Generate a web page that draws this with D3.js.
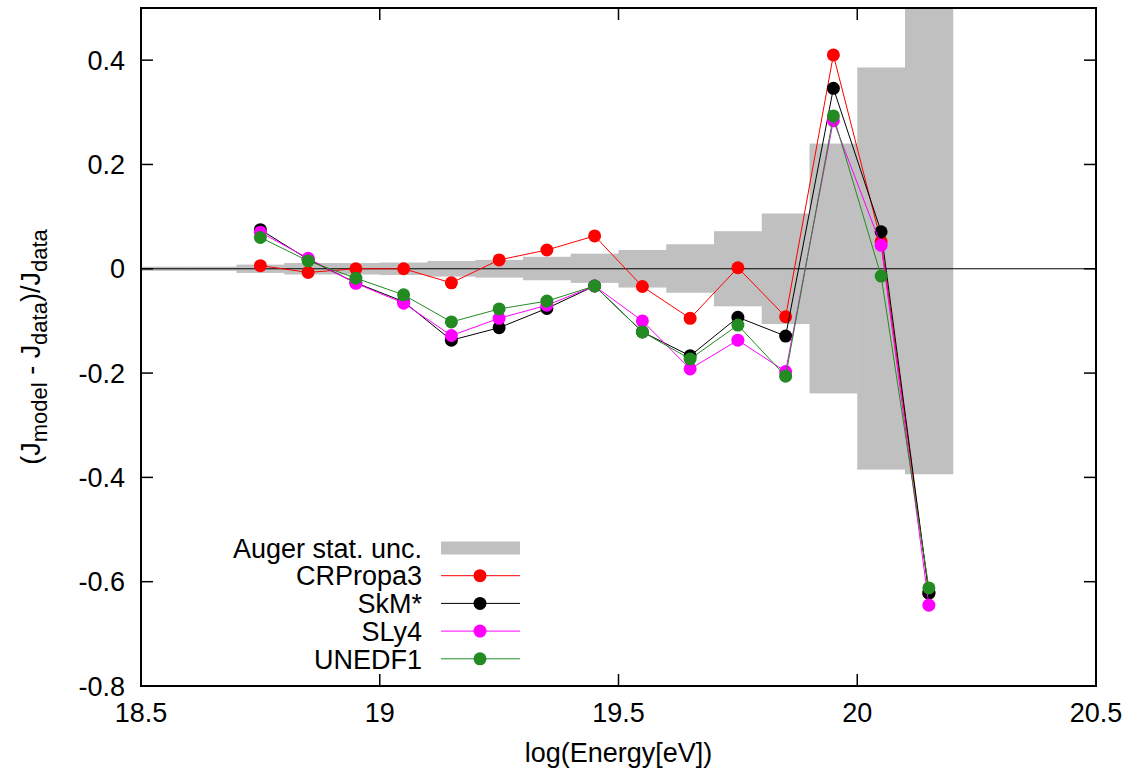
<!DOCTYPE html>
<html>
<head>
<meta charset="utf-8">
<script src="https://cdn.jsdelivr.net/npm/d3@7"></script>
<style>
  body { margin: 0; background: #fff; }
  svg text { font-family: "Liberation Sans", Arial, sans-serif; fill: #000; }
</style>
</head>
<body>
<div class="chart"></div>
<script>
var W = 1137, H = 778;
var margin = {left: 141, right: 41, top: 8, bottom: 92};
var fontSize = "27px";

// log10(E/eV) bin centres
var energy = [18.75, 18.85, 18.95, 19.05, 19.15, 19.25, 19.35, 19.45, 19.55, 19.65, 19.75, 19.85, 19.95, 20.05, 20.15];
var crpropa3 = [0.006, -0.007, 0.0, 0.0, -0.027, 0.017, 0.036, 0.063, -0.034, -0.095, 0.002, -0.092, 0.410, 0.052, -0.622];
var skm = [0.075, 0.018, -0.027, -0.063, -0.137, -0.113, -0.076, -0.033, -0.121, -0.167, -0.093, -0.129, 0.346, 0.071, -0.622];
var sly4 = [0.070, 0.020, -0.028, -0.066, -0.128, -0.095, -0.070, -0.033, -0.100, -0.192, -0.137, -0.197, 0.284, 0.045, -0.645];
var unedf1 = [0.060, 0.015, -0.018, -0.050, -0.102, -0.077, -0.062, -0.033, -0.121, -0.173, -0.108, -0.206, 0.293, -0.014, -0.612];

// Auger statistical uncertainty, bins of width 0.1 starting at these edges
var uncEdges = [18.5, 18.6, 18.7, 18.8, 18.9, 19.0, 19.1, 19.2, 19.3, 19.4, 19.5, 19.6, 19.7, 19.8, 19.9, 20.0, 20.1];
var uncUpper = [0.004, 0.004, 0.008, 0.011, 0.011, 0.012, 0.015, 0.017, 0.023, 0.029, 0.036, 0.047, 0.072, 0.106, 0.240, 0.386, 0.650];
var uncLower = [0.004, 0.004, 0.008, 0.011, 0.011, 0.012, 0.015, 0.017, 0.022, 0.027, 0.036, 0.046, 0.072, 0.106, 0.239, 0.385, 0.394];

var xTicks = [18.5, 19, 19.5, 20, 20.5];
var xTickLabels = ["18.5", "19", "19.5", "20", "20.5"];
var yTicks = [-0.8, -0.6, -0.4, -0.2, 0, 0.2, 0.4];
var yTickLabels = ["-0.8", "-0.6", "-0.4", "-0.2", "0", "0.2", "0.4"];

var seriesNames = ["CRPropa3", "SkM*", "SLy4", "UNEDF1"];
var seriesValues = [crpropa3, skm, sly4, unedf1];
var seriesColors = ["#ff0000", "#000000", "#ff00ff", "#228b22"];

var svg = d3.select(".chart").append("svg")
    .attr("width", W).attr("height", H);

var x = d3.scaleLinear().domain([18.5, 20.5]).range([margin.left, W - margin.right]);
var y = d3.scaleLinear().domain([-0.8, 0.5]).range([H - margin.bottom, margin.top]);

svg.append("defs").append("clipPath").attr("id", "plotclip")
  .append("rect")
    .attr("x", x(18.5)).attr("y", y(0.5))
    .attr("width", x(20.5) - x(18.5)).attr("height", y(-0.8) - y(0.5));

var plot = svg.append("g").attr("clip-path", "url(#plotclip)");

// uncertainty band
plot.selectAll("rect.unc")
    .data(uncEdges)
    .enter().append("rect")
    .attr("class", "unc")
    .attr("x", d => x(d))
    .attr("width", d => x(d + 0.1) - x(d) + 0.5)
    .attr("y", (d, i) => y(uncUpper[i]))
    .attr("height", (d, i) => y(-uncLower[i]) - y(uncUpper[i]))
    .attr("fill", "#c0c0c0");

// zero line
plot.append("line")
    .attr("x1", x(18.5)).attr("x2", x(20.5))
    .attr("y1", y(0)).attr("y2", y(0))
    .attr("stroke", "#000").attr("stroke-width", 1);

var line = d3.line().x((d, i) => x(energy[i])).y(d => y(d));

seriesValues.forEach(function(vals, k) {
    var g = plot.append("g");
    g.append("path")
        .attr("d", line(vals))
        .attr("fill", "none")
        .attr("stroke", seriesColors[k])
        .attr("stroke-width", 1);
    g.selectAll("circle")
        .data(vals)
        .enter().append("circle")
        .attr("cx", (d, i) => x(energy[i]))
        .attr("cy", d => y(d))
        .attr("r", 6.5)
        .attr("fill", seriesColors[k]);
});

// axes: ticks inward on all four sides
var tickLen = 12;
var axes = svg.append("g");
xTicks.forEach(function(t, i) {
    axes.append("line").attr("x1", x(t)).attr("x2", x(t))
        .attr("y1", y(-0.8)).attr("y2", y(-0.8) - tickLen)
        .attr("stroke", "#000").attr("stroke-width", 1.5);
    axes.append("line").attr("x1", x(t)).attr("x2", x(t))
        .attr("y1", y(0.5)).attr("y2", y(0.5) + tickLen)
        .attr("stroke", "#000").attr("stroke-width", 1.5);
    axes.append("text")
        .attr("x", x(t)).attr("y", y(-0.8) + 36)
        .attr("text-anchor", "middle")
        .style("font-size", fontSize)
        .text(xTickLabels[i]);
});
yTicks.forEach(function(t, i) {
    axes.append("line").attr("x1", x(18.5)).attr("x2", x(18.5) + tickLen)
        .attr("y1", y(t)).attr("y2", y(t))
        .attr("stroke", "#000").attr("stroke-width", 1.5);
    axes.append("line").attr("x1", x(20.5)).attr("x2", x(20.5) - tickLen)
        .attr("y1", y(t)).attr("y2", y(t))
        .attr("stroke", "#000").attr("stroke-width", 1.5);
    axes.append("text")
        .attr("x", x(18.5) - 16).attr("y", y(t))
        .attr("dy", "0.36em")
        .attr("text-anchor", "end")
        .style("font-size", fontSize)
        .text(yTickLabels[i]);
});

// frame
svg.append("rect")
    .attr("x", x(18.5)).attr("y", y(0.5))
    .attr("width", x(20.5) - x(18.5)).attr("height", y(-0.8) - y(0.5))
    .attr("fill", "none").attr("stroke", "#000").attr("stroke-width", 2);

// axis titles
svg.append("text")
    .attr("x", (x(18.5) + x(20.5)) / 2).attr("y", 762)
    .attr("text-anchor", "middle")
    .style("font-size", fontSize)
    .text("log(Energy[eV])");

var yl = svg.append("text")
    .attr("transform", "translate(40," + ((y(0.5) + y(-0.8)) / 2) + ") rotate(-90)")
    .attr("text-anchor", "middle")
    .style("font-size", fontSize);
yl.append("tspan").text("(J");
yl.append("tspan").attr("dy", 7).style("font-size", "22px").text("model");
yl.append("tspan").attr("dy", -7).text(" - J");
yl.append("tspan").attr("dy", 7).style("font-size", "22px").text("data");
yl.append("tspan").attr("dy", -7).text(")/J");
yl.append("tspan").attr("dy", 7).style("font-size", "22px").text("data");

// legend
var legX = 422, legY0 = 548, legStep = 27.7;
var leg = svg.append("g");
leg.append("text")
    .attr("x", legX).attr("y", legY0).attr("dy", "0.36em")
    .attr("text-anchor", "end").style("font-size", fontSize)
    .text("Auger stat. unc.");
leg.append("rect")
    .attr("x", 441).attr("y", legY0 - 6.5)
    .attr("width", 79).attr("height", 13)
    .attr("fill", "#c0c0c0");
seriesNames.forEach(function(name, k) {
    var yy = legY0 + (k + 1) * legStep;
    leg.append("text")
        .attr("x", legX).attr("y", yy).attr("dy", "0.36em")
        .attr("text-anchor", "end").style("font-size", fontSize)
        .text(name);
    leg.append("line")
        .attr("x1", 441).attr("x2", 520).attr("y1", yy).attr("y2", yy)
        .attr("stroke", seriesColors[k]).attr("stroke-width", 1);
    leg.append("circle")
        .attr("cx", 480).attr("cy", yy).attr("r", 6.5)
        .attr("fill", seriesColors[k]);
});
</script>
</body>
</html>
